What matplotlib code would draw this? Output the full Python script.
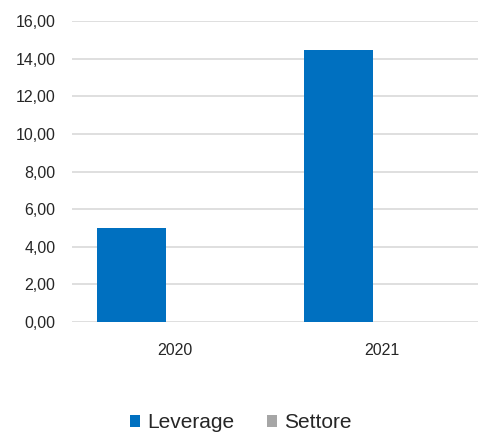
import numpy as np
import matplotlib.pyplot as plt
from matplotlib.ticker import FuncFormatter

years = ["2020", "2021"]
leverage = [5.00, 14.45]
settore = [0.00, 0.00]
y_ticks = [0, 2, 4, 6, 8, 10, 12, 14, 16]

plt.rcParams["font.family"] = ["Liberation Sans", "DejaVu Sans"]

W, H = 478, 432
fig = plt.figure(figsize=(W / 100, H / 100), dpi=100)
ax = fig.add_axes([72 / W, (H - 322) / H, 406 / W, 301 / H])

x = np.arange(len(years))
bw = 0.333
off = 0.211
ax.bar(x - off, leverage, bw, color="#0070c0", label="Leverage", zorder=3)
ax.bar(x + off, settore, bw, color="#a6a6a6", label="Settore", zorder=3)

ax.set_ylim(0, 16)
ax.set_xlim(-0.498, 1.464)
ax.set_yticks(y_ticks)
ax.yaxis.set_major_formatter(FuncFormatter(lambda v, p: f"{v:.2f}".replace(".", ",")))
ax.set_xticks(x)
ax.set_xticklabels(years)

ax.grid(axis="y", color="#d9d9d9", linewidth=1.2, zorder=0)
for s in ax.spines.values():
    s.set_visible(False)
ax.tick_params(axis="both", length=0, labelsize=11.5, colors="#262626")
ax.tick_params(axis="y", pad=12)
ax.tick_params(axis="x", pad=15)

fig.legend(loc="center", bbox_to_anchor=(241 / W, 1 - 423 / H), ncol=2,
           frameon=False, fontsize=15, handlelength=0.45, handleheight=0.45,
           handletextpad=0.35, columnspacing=1.6, labelcolor="#262626")

fig.savefig("out.png", dpi=100)
